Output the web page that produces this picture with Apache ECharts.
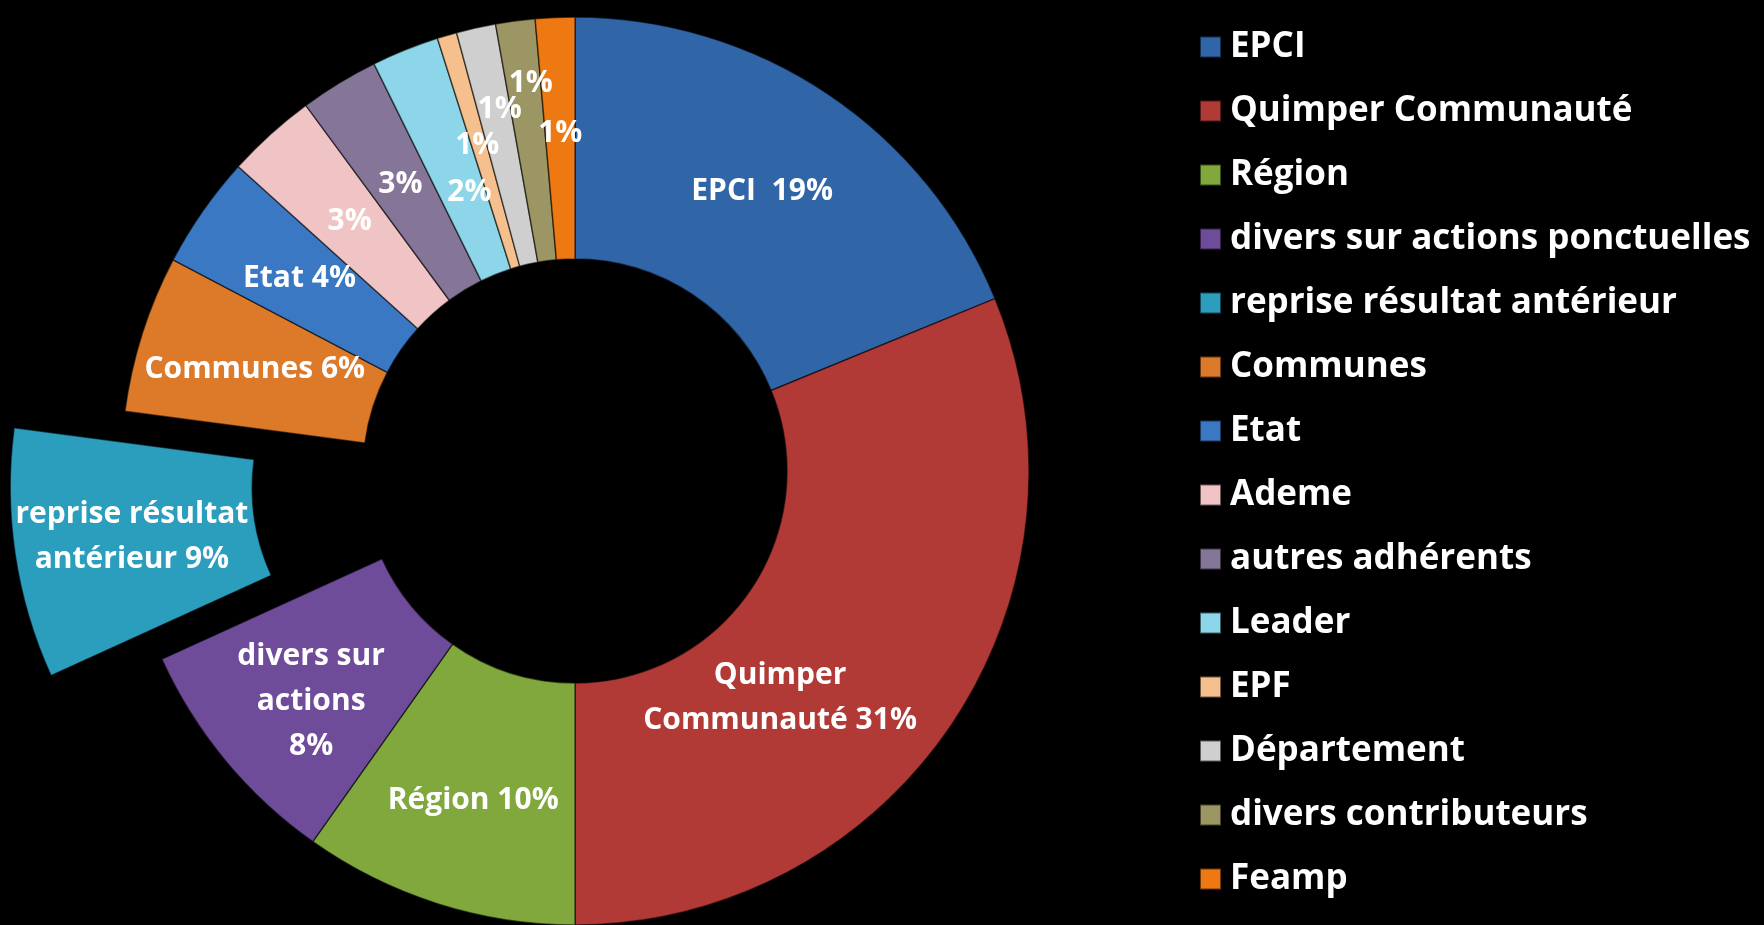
<!DOCTYPE html>
<html>
<head>
<meta charset="utf-8">
<script src="https://cdn.jsdelivr.net/npm/echarts@6/dist/echarts.min.js"></script>
<style>
  html, body { margin: 0; padding: 0; background: #000; }
  #chart { width: 1764px; height: 925px; }
</style>
</head>
<body>
<div id="chart"></div>
<script>
// categories, in pie order (clockwise from 12 o'clock)
var categories = ['EPCI', 'Quimper Communauté', 'Région', 'divers sur actions ponctuelles',
  'reprise résultat antérieur', 'Communes', 'Etat', 'Ademe', 'autres adhérents',
  'Leader', 'EPF', 'Département', 'divers contributeurs', 'Feamp'];
// shares in %
var values = [18.8, 31.2, 9.8, 8.4, 8.9, 5.6, 4.0, 3.2, 2.8, 2.4, 0.7, 1.4, 1.4, 1.4];
// text shown in front of the percentage inside each slice
var labelNames = ['EPCI  ', 'Quimper\nCommunauté ', 'Région ', 'divers sur\nactions\n',
  'reprise résultat\nantérieur ', 'Communes ', 'Etat ', '', '', '', '', '', '', ''];
var exploded = ['reprise résultat antérieur'];

var colors = ['#3066a8', '#b13a36', '#80a83d', '#6f4c99', '#2b9dbd', '#dc7a2a',
  '#3a78c4', '#f0c4c4', '#857598', '#8dd5e8', '#f5bf8e', '#cfcfcf', '#9c9664', '#ee7812'];

// small label moves, like the hand placed labels of the original
var labelNudge = {
  'Quimper Communauté': [-74, 40],
  'Région': [0, 9],
  'divers sur actions ponctuelles': [-5, 16],
  'Leader': [20, 33],
  'EPF': [-3, -3],
  'Département': [-2, -34],
  'divers contributeurs': [0, -54],
  'Feamp': [0, -2]
};

var myChart = echarts.init(document.getElementById('chart'));

var pieData = [];
for (var i = 0; i < categories.length; i++) {
  pieData.push({
    name: categories[i],
    value: values[i],
    selected: exploded.indexOf(categories[i]) >= 0,
    itemStyle: { color: colors[i] }
  });
}

var font = '"Open Sans", Lato, sans-serif';

var option = {
  backgroundColor: '#000',
  animation: false,
  legend: {
    orient: 'vertical',
    left: 1194,
    top: 22,
    itemWidth: 21,
    itemHeight: 21,
    itemGap: 24,
    icon: 'rect',
    selectedMode: false,
    data: categories,
    textStyle: {
      color: '#fff',
      fontFamily: font,
      fontWeight: 'bold',
      fontSize: 35,
      lineHeight: 40,
      padding: [0, 0, 0, 4]
    }
  },
  series: [{
    type: 'pie',
    center: [575, 471],
    radius: [212, 454],
    startAngle: 90,
    clockwise: true,
    selectedMode: 'single',
    selectedOffset: 112,
    avoidLabelOverlap: false,
    itemStyle: {
      borderColor: 'rgba(0,0,0,0.55)',
      borderWidth: 1.5
    },
    label: {
      show: true,
      position: 'inside',
      color: '#fff',
      fontFamily: font,
      fontWeight: 'bold',
      fontSize: 30,
      lineHeight: 45,
      align: 'center',
      formatter: function (p) {
        return labelNames[p.dataIndex] + Math.round(p.percent) + '%';
      }
    },
    labelLayout: function (p) {
      var n = labelNudge[categories[p.dataIndex]];
      if (!n) return {};
      return { dx: n[0], dy: n[1] };
    },
    labelLine: { show: false },
    emphasis: { disabled: true },
    data: pieData
  }]
};

myChart.setOption(option);
window.addEventListener('resize', function () {
  myChart.resize();
});
</script>
</body>
</html>
